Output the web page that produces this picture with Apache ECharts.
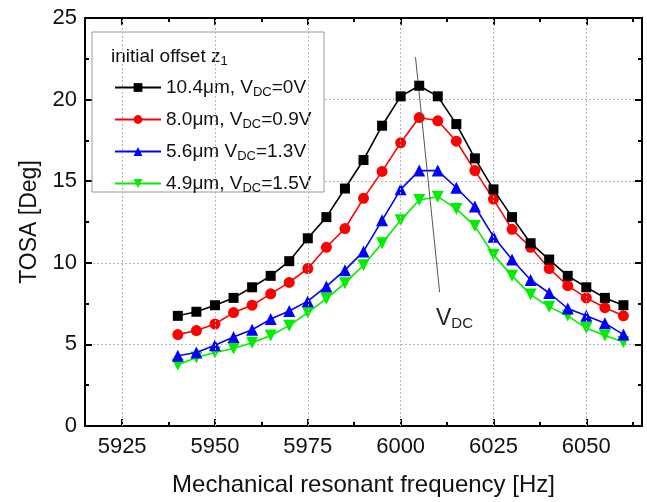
<!DOCTYPE html>
<html>
<head>
<meta charset="utf-8">
<script src="https://cdn.jsdelivr.net/npm/echarts@6/dist/echarts.min.js"></script>
<style>
  html, body { margin: 0; padding: 0; background: #fff; }
  #chart { width: 647px; height: 502px; }
</style>
</head>
<body>
<div id="chart"></div>
<script>
// Drive frequency sweep [Hz]
const freq = [5940, 5945, 5950, 5955, 5960, 5965, 5970, 5975, 5980, 5985, 5990, 5995,
              6000, 6005, 6010, 6015, 6020, 6025, 6030, 6035, 6040, 6045, 6050, 6055, 6060];

// TOSA [Deg] for each initial offset / bias voltage
const tosa104 = [6.75, 7.0, 7.4, 7.85, 8.5, 9.2, 10.1, 11.5, 12.8, 14.55, 16.3, 18.4,
                 20.2, 20.85, 20.2, 18.5, 16.4, 14.5, 12.8, 11.2, 10.2, 9.2, 8.5, 7.85, 7.4];
const tosa80  = [5.6, 5.85, 6.25, 6.95, 7.4, 8.1, 8.8, 9.65, 10.95, 12.1, 13.95, 15.6,
                 17.35, 18.9, 18.7, 17.45, 15.65, 13.9, 12.05, 10.95, 9.65, 8.6, 7.85, 7.25, 6.75];
const tosa56  = [4.3, 4.5, 4.95, 5.45, 5.9, 6.55, 7.05, 7.65, 8.55, 9.55, 10.7, 12.6,
                 14.5, 15.65, 15.65, 14.6, 13.45, 11.6, 10.2, 8.95, 8.15, 7.2, 6.75, 6.3, 5.6];
const tosa49  = [3.75, 4.2, 4.5, 4.75, 5.1, 5.55, 6.15, 6.95, 7.8, 8.75, 9.85, 11.2,
                 12.6, 13.85, 14.05, 13.3, 12.25, 10.5, 9.2, 8.05, 7.3, 6.75, 6.0, 5.55, 5.15];

const seriesNames = ['10.4μm, V_DC=0V', '8.0μm, V_DC=0.9V', '5.6μm V_DC=1.3V', '4.9μm, V_DC=1.5V'];
const seriesData = [tosa104, tosa80, tosa56, tosa49];
const seriesColors = ['#000000', '#ff0000', '#0000ff', '#00ee00'];

// Axis ticks
const xRange = [5915, 6065];
const xMajor = [5925, 5950, 5975, 6000, 6025, 6050];
const xMinor = [5937.5, 5962.5, 5987.5, 6012.5, 6037.5, 6062.5];
const yRange = [0, 25];

// Arrow showing increasing bias voltage
const arrowFrom = [6004, 22.6];
const arrowTo = [6010.5, 8.2];
const arrowLabelAt = [6014.5, 6.6];

const FONT = 'Liberation Sans, Arial, sans-serif';
const subRich = {
  sub: { fontSize: 13, fontFamily: FONT, color: '#111', padding: [9, 0, 0, 0] }
};

function toRich(name) {
  return name.replace('V_DC', 'V{sub|DC}');
}

const chart = echarts.init(document.getElementById('chart'));

function makeXAxis(position, ticks, len, showLine, showLabel) {
  return {
    type: 'value', min: xRange[0], max: xRange[1], position: position, gridIndex: 0,
    axisLine: { show: showLine, onZero: false, lineStyle: { color: '#000', width: 2 } },
    axisTick: { show: true, inside: true, length: len, customValues: ticks,
                lineStyle: { color: '#000', width: 2 } },
    axisLabel: { show: showLabel, customValues: ticks, margin: 10,
                 formatter: v => String(v),
                 fontSize: 22, fontFamily: FONT, color: '#111' },
    splitLine: { show: false }
  };
}

function makeYAxis(position, showLabel) {
  return {
    type: 'value', min: yRange[0], max: yRange[1], interval: 5, position: position,
    axisLine: { show: true, onZero: false, lineStyle: { color: '#000', width: 2 } },
    axisTick: { show: true, inside: true, length: 7, lineStyle: { color: '#000', width: 2 } },
    minorTick: { show: true, splitNumber: 2, length: 4, lineStyle: { color: '#000', width: 2 } },
    axisLabel: { show: showLabel, margin: 8, fontSize: 22, fontFamily: FONT, color: '#111' },
    splitLine: { show: showLabel, lineStyle: { color: '#b5b5b5', type: [2, 2], width: 1 } }
  };
}

const xAxes = [
  makeXAxis('bottom', xMajor, 7, true, true),
  makeXAxis('bottom', xMinor, 4, false, false),
  makeXAxis('top', xMajor, 7, true, false),
  makeXAxis('top', xMinor, 4, false, false)
];
xAxes[0].name = 'Mechanical resonant frequency [Hz]';
xAxes[0].nameLocation = 'middle';
xAxes[0].nameGap = 47;
xAxes[0].nameTextStyle = { fontSize: 24, fontFamily: FONT, color: '#111' };

const yAxes = [makeYAxis('left', true), makeYAxis('right', false)];
yAxes[0].name = 'TOSA [Deg]';
yAxes[0].nameLocation = 'middle';
yAxes[0].nameGap = 40;
yAxes[0].nameTextStyle = { fontSize: 23, fontFamily: FONT, color: '#111' };

const symbols = ['rect', 'circle', 'triangle', 'triangle'];
const symbolSizes = [10, 11, 12, 12];
const symbolRotates = [0, 0, 0, 180];

const series = seriesNames.map((name, i) => ({
  name: name,
  type: 'line',
  xAxisIndex: 0, yAxisIndex: 0,
  data: freq.map((f, k) => [f, seriesData[i][k]]),
  symbol: symbols[i],
  symbolSize: symbolSizes[i],
  symbolRotate: symbolRotates[i],
  showAllSymbol: true,
  color: seriesColors[i],
  lineStyle: { width: 1.6, color: seriesColors[i] },
  itemStyle: { color: seriesColors[i] },
  emphasis: { disabled: true },
  z: 5 - i
}));

// Vertical grid lines at the major frequency ticks
series.push({
  type: 'line', name: 'guides', xAxisIndex: 0, yAxisIndex: 0,
  data: [], silent: true, z: 1,
  markLine: {
    silent: true, symbol: 'none', animation: false,
    label: { show: false },
    lineStyle: { color: '#b5b5b5', type: [2, 2], width: 1 },
    data: xMajor.map(v => ({ xAxis: v }))
  }
});
// Arrow and its V_DC label
series.push({
  type: 'line', name: 'arrow', xAxisIndex: 0, yAxisIndex: 0,
  data: [], silent: true, z: 6,
  markLine: {
    silent: true, animation: false,
    symbol: ['none', 'arrow'], symbolSize: [0, 9],
    label: { show: false },
    lineStyle: { color: '#555', type: 'solid', width: 1 },
    data: [[{ coord: arrowFrom }, { coord: arrowTo }]]
  },
  markPoint: {
    silent: true, animation: false, symbol: 'circle', symbolSize: 0,
    label: {
      show: true, position: 'inside',
      formatter: 'V{sub|DC}',
      fontSize: 23, fontFamily: FONT, color: '#222',
      rich: { sub: { fontSize: 15, fontFamily: FONT, color: '#222', padding: [12, 0, 0, 0] } }
    },
    data: [{ coord: arrowLabelAt }]
  }
});

chart.setOption({
  animation: false,
  backgroundColor: '#fff',
  grid: { left: 85, top: 18, right: 5, bottom: 75, containLabel: false },
  xAxis: xAxes,
  yAxis: yAxes,
  legend: {
    data: seriesNames,
    orient: 'vertical',
    left: 109, top: 71,
    itemWidth: 46, itemHeight: 11, itemGap: 9,
    selectedMode: false,
    formatter: toRich,
    textStyle: { fontSize: 19, fontFamily: FONT, color: '#111', lineHeight: 23, rich: subRich }
  },
  graphic: [
    {
      type: 'rect', z: 3, silent: true,
      shape: { x: 92, y: 32, width: 232, height: 160 },
      style: { fill: '#fff', stroke: '#999', lineWidth: 1 }
    },
    {
      type: 'text', z: 5, silent: true, left: 111, top: 47,
      style: {
        text: 'initial offset z{sub|1}',
        fontSize: 19, fontFamily: FONT, fill: '#111',
        rich: { sub: { fontSize: 13, fontFamily: FONT, fill: '#111', padding: [9, 0, 0, 0] } }
      }
    }
  ],
  series: series
});
</script>
</body>
</html>
